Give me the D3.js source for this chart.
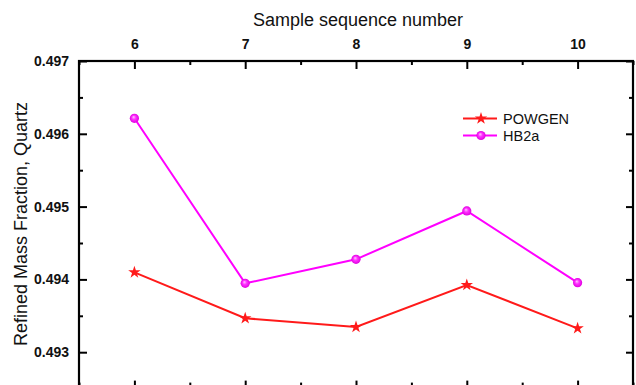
<!DOCTYPE html>
<html>
<head>
<meta charset="utf-8">
<script src="https://cdn.jsdelivr.net/npm/d3@7"></script>
<style>
  html, body { margin: 0; padding: 0; background: #fff; }
  svg { display: block; }
  text { font-family: Arial, "Liberation Sans", sans-serif; }
</style>
</head>
<body>
<svg id="chart" width="636" height="385"></svg>
<script>
const samples = [6, 7, 8, 9, 10];
const powgen = [0.494097, 0.493466, 0.493346, 0.493923, 0.493328];
const hb2a = [0.496213, 0.493946, 0.494276, 0.494940, 0.493955];
const xTicks = [6, 7, 8, 9, 10];
const yTicks = [0.493, 0.494, 0.495, 0.496, 0.497];
const xMinor = [5.5, 6.5, 7.5, 8.5, 9.5, 10.5];
const yMinor = [0.4925, 0.4935, 0.4945, 0.4955, 0.4965];
const seriesNames = ["POWGEN", "HB2a"];
const seriesColors = ["#ff1a1a", "#ff00ff"];

const svg = d3.select("#chart");
const L = 79, R = 633, T = 61, B = 388.6;
const x = d3.scaleLinear().domain([5.5, 10.5]).range([L, R]);
const y = d3.scaleLinear().domain([0.4925, 0.497]).range([B, T]);

const defs = svg.append("defs");
const grad = defs.append("radialGradient").attr("id", "ball")
  .attr("cx", "50%").attr("cy", "50%").attr("r", "50%").attr("fx", "40%").attr("fy", "35%");
grad.append("stop").attr("offset", "0%").attr("stop-color", "#ffc8ff");
grad.append("stop").attr("offset", "45%").attr("stop-color", "#ff30ff");
grad.append("stop").attr("offset", "100%").attr("stop-color", "#e000e0");

// Axes (ticks pointing inward)
const fmtY = d3.format(".3f");
function styleAxis(g) {
  g.select(".domain").remove();
  g.selectAll(".tick line").attr("stroke", "#000").attr("stroke-width", 2);
}
// top
const topAx = svg.append("g").attr("transform", `translate(0,${T})`)
  .call(d3.axisTop(x).tickValues(xTicks).tickSize(-8).tickPadding(12).tickFormat(d3.format("d")));
styleAxis(topAx);
topAx.selectAll("text").attr("font-size", 14).attr("font-weight", "bold").attr("fill", "#111");
svg.append("g").attr("transform", `translate(0,${T})`)
  .call(d3.axisTop(x).tickValues(xMinor).tickSize(-4).tickFormat(""))
  .call(styleAxis);
// bottom
svg.append("g").attr("transform", `translate(0,${B})`)
  .call(d3.axisBottom(x).tickValues(xTicks).tickSize(-8).tickFormat(""))
  .call(styleAxis);
svg.append("g").attr("transform", `translate(0,${B})`)
  .call(d3.axisBottom(x).tickValues(xMinor).tickSize(-6).tickFormat(""))
  .call(styleAxis);
// left
const leftAx = svg.append("g").attr("transform", `translate(${L},0)`)
  .call(d3.axisLeft(y).tickValues(yTicks).tickSize(-8).tickPadding(10).tickFormat(fmtY));
styleAxis(leftAx);
leftAx.selectAll("text").attr("font-size", 14).attr("font-weight", "bold").attr("fill", "#111");
svg.append("g").attr("transform", `translate(${L},0)`)
  .call(d3.axisLeft(y).tickValues(yMinor).tickSize(-4).tickFormat(""))
  .call(styleAxis);
// right
svg.append("g").attr("transform", `translate(${R},0)`)
  .call(d3.axisRight(y).tickValues(yTicks).tickSize(-7).tickFormat(""))
  .call(styleAxis);
svg.append("g").attr("transform", `translate(${R},0)`)
  .call(d3.axisRight(y).tickValues(yMinor).tickSize(-4).tickFormat(""))
  .call(styleAxis);

// frame
svg.append("rect").attr("x", L).attr("y", T).attr("width", R - L).attr("height", B - T)
  .attr("fill", "none").attr("stroke", "#000").attr("stroke-width", 2.2);

// titles
svg.append("text").attr("x", 358).attr("y", 26).attr("text-anchor", "middle")
  .attr("font-size", 18).attr("fill", "#111").text("Sample sequence number");
svg.append("text").attr("transform", "translate(27,224) rotate(-90)").attr("text-anchor", "middle")
  .attr("font-size", 18).attr("fill", "#111").text("Refined Mass Fraction, Quartz");

// series
const line = d3.line().x((d, i) => x(samples[i])).y(d => y(d));
const star = d3.symbol().type(d3.symbolStar).size(48);

svg.append("path").datum(powgen).attr("d", line).attr("fill", "none")
  .attr("stroke", seriesColors[0]).attr("stroke-width", 2);
svg.append("path").datum(hb2a).attr("d", line).attr("fill", "none")
  .attr("stroke", seriesColors[1]).attr("stroke-width", 2);

svg.selectAll(".star").data(powgen).enter().append("path")
  .attr("transform", (d, i) => `translate(${x(samples[i])},${y(d)})`)
  .attr("d", star).attr("fill", seriesColors[0]);
svg.selectAll(".ball").data(hb2a).enter().append("circle")
  .attr("cx", (d, i) => x(samples[i])).attr("cy", d => y(d)).attr("r", 4.6)
  .attr("fill", "url(#ball)");

// legend
const legY = [118.5, 135.5];
seriesNames.forEach((name, i) => {
  const g = svg.append("g");
  g.append("line").attr("x1", 463).attr("x2", 497).attr("y1", legY[i]).attr("y2", legY[i])
    .attr("stroke", seriesColors[i]).attr("stroke-width", 2);
  if (i === 0) {
    g.append("path").attr("transform", `translate(481,${legY[i]})`).attr("d", star).attr("fill", seriesColors[i]);
  } else {
    g.append("circle").attr("cx", 481).attr("cy", legY[i]).attr("r", 4.6).attr("fill", "url(#ball)");
  }
  g.append("text").attr("x", 503).attr("y", legY[i] + 5).attr("font-size", 14.5)
    .attr("fill", "#111").text(name);
});
</script>
</body>
</html>
